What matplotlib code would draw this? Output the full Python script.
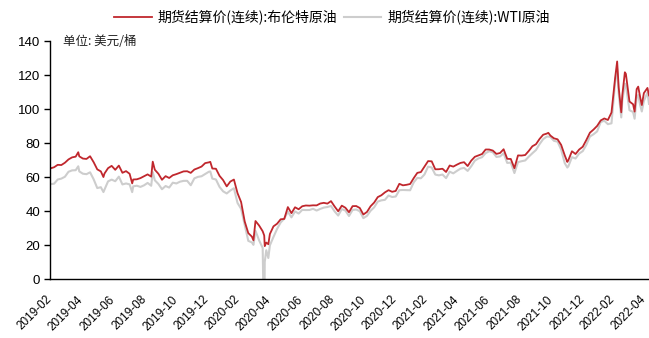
import matplotlib
matplotlib.use('Agg')
import matplotlib.pyplot as plt
import pandas as pd

plt.rcParams['font.family'] = ['Liberation Sans', 'Noto Sans CJK SC', 'DejaVu Sans']

# Friday settlements, 2019-03-01 .. 2022-05-06 (USD/bbl)
brent_2019 = [65.07, 65.74, 67.16, 67.03, 68.39,
              70.34, 71.55, 71.97, 72.15,
              70.85, 70.62, 72.21, 68.69, 64.49,
              63.29, 62.01, 65.20, 66.55,
              64.23, 66.72, 62.47, 63.46,
              61.89, 58.53, 58.64, 59.34, 60.43,
              61.54, 60.22, 64.28, 61.91,
              58.37, 60.51, 59.42, 61.02,
              61.69, 62.51, 63.30, 63.39, 62.43,
              64.39, 65.22, 66.14, 68.16]
brent_2020 = [68.60, 64.98, 64.85, 60.69, 58.16,
              54.47, 57.32, 58.50, 50.52,
              45.27, 33.85, 26.98, 24.93,
              34.11, 31.48, 28.08, 21.44,
              26.44, 30.97, 32.50, 35.13, 35.33,
              42.30, 38.73, 42.19, 41.02,
              42.80, 43.24, 43.14, 43.34, 43.30,
              44.40, 44.80, 44.35, 45.81,
              42.66, 39.83, 43.15, 41.92,
              39.27, 42.85, 42.93, 41.77, 37.94,
              39.45, 42.78, 44.96, 48.18,
              49.25, 50.97, 52.26, 51.29]
brent_2021 = [51.80, 55.99, 55.10, 55.41, 55.88,
              59.34, 62.43, 62.91, 66.13,
              69.36, 69.22, 64.53, 64.57,
              64.86, 62.95, 66.77, 66.11, 67.25,
              68.28, 68.71, 66.44, 69.63,
              71.89, 72.69, 73.51, 76.18,
              76.17, 75.55, 73.59, 74.10, 76.33,
              70.70, 70.59, 65.18, 72.70,
              72.61, 72.92, 75.34, 78.09,
              79.28, 82.39, 84.86, 85.53, 84.38,
              82.74, 82.17, 78.89, 72.72,
              69.88, 75.15, 73.52, 76.14, 77.78]
brent_2022 = [81.75, 86.06, 87.89, 90.03,
              93.27, 94.44, 93.54, 97.93,
              118.11, 112.67, 107.93, 120.65,
              104.39, 102.78, 111.70, 106.65, 109.34,
              112.39]

wti_2019 = [55.80, 56.07, 58.52, 59.04, 60.14,
            63.08, 63.89, 64.00, 63.30,
            61.94, 61.66, 62.76, 58.63, 53.50,
            53.99, 52.51, 57.43, 58.47,
            57.51, 60.21, 55.63, 56.20,
            55.66, 54.50, 54.87, 54.17, 55.10,
            56.52, 54.85, 58.09, 55.91,
            52.81, 54.70, 53.78, 56.66,
            56.20, 57.24, 57.72, 57.77, 55.17,
            59.20, 60.07, 60.44, 61.72]
wti_2020 = [63.05, 59.04, 58.54, 54.19, 51.56,
            50.32, 52.05, 53.38, 44.76,
            41.28, 31.73, 22.43, 21.51,
            28.34, 22.76, 18.27, 16.94,
            19.78, 24.74, 29.43, 33.25, 35.49,
            39.55, 36.26, 39.75, 38.49,
            40.65, 40.55, 40.59, 41.29, 40.27,
            41.22, 42.01, 42.34, 42.97,
            39.77, 37.33, 41.11, 40.25,
            37.05, 40.60, 40.88, 39.85, 35.79,
            37.14, 40.13, 42.15, 45.53,
            46.26, 46.57, 49.10, 48.23]
wti_2021 = [48.52, 52.24, 52.36, 52.27, 52.20,
            56.85, 59.47, 59.24, 61.50,
            66.09, 65.61, 61.42, 60.97,
            61.45, 59.32, 63.13, 62.14, 63.58,
            64.90, 65.37, 63.58, 66.32,
            69.62, 70.91, 71.64, 74.05,
            75.16, 74.56, 71.81, 72.07, 73.95,
            68.28, 68.44, 62.32, 68.74,
            69.29, 69.72, 71.97, 73.98,
            75.88, 79.35, 82.28, 83.76, 83.57,
            81.27, 80.79, 76.10, 68.15,
            66.26, 71.67, 70.86, 73.79, 75.21]
wti_2022 = [78.90, 83.82, 85.14, 86.82,
            92.31, 93.10, 91.07, 91.59,
            115.68, 109.33, 104.70, 113.90,
            99.27, 98.26, 106.95, 102.07, 104.69,
            109.77]

# single days worth keeping between the weekly points
extra_dates = ['2019-02-28', '2019-04-24', '2019-06-12', '2019-08-07',
               '2019-09-16', '2020-01-06', '2020-03-30', '2020-04-20',
               '2020-04-21', '2020-04-28', '2021-10-25', '2021-12-01',
               '2022-03-08', '2022-03-16', '2022-03-23', '2022-04-11',
               '2022-04-18', '2022-04-25', '2022-05-09']
extra_brent = [65.6, 74.57, 59.97, 56.23,
               69.02, 68.91, 22.76, 25.57,
               19.33, 20.46, 85.99, 68.87,
               127.98, 98.02, 121.60, 98.48,
               113.16, 102.32, 108.0]
extra_wti = [56.6, 66.30, 51.14, 51.09,
             62.90, 63.27, 20.09, -37.63,
             10.01, 12.34, 83.76, 65.57,
             123.70, 95.04, 114.93, 94.29,
             108.21, 98.54, 103.0]

tick_labels = ['2019-02', '2019-04', '2019-06', '2019-08', '2019-10', '2019-12',
               '2020-02', '2020-04', '2020-06', '2020-08', '2020-10', '2020-12',
               '2021-02', '2021-04', '2021-06', '2021-08', '2021-10', '2021-12',
               '2022-02', '2022-04']

brent_name = '期货结算价(连续):布伦特原油'
wti_name = '期货结算价(连续):WTI原油'

weeks = pd.date_range('2019-03-01', '2022-05-06', freq='W-FRI')
weekly = pd.DataFrame({'brent': brent_2019 + brent_2020 + brent_2021 + brent_2022,
                       'wti': wti_2019 + wti_2020 + wti_2021 + wti_2022},
                      index=weeks)
extra = pd.DataFrame({'brent': extra_brent, 'wti': extra_wti},
                     index=pd.to_datetime(extra_dates))
df = pd.concat([weekly, extra]).sort_index()

fig = plt.figure(figsize=(6.49, 3.38), dpi=100)
ax = fig.add_axes([50 / 649, 59 / 338, 599 / 649, 238 / 338])

l_wti, = ax.plot(df.index, df['wti'], color='#CDCDCD', lw=1.5)
l_brent, = ax.plot(df.index, df['brent'], color='#C0272D', lw=1.3)

ax.set_ylim(0, 140)
ax.set_yticks(range(0, 141, 20))
ax.set_xlim(df.index[0], df.index[-1])

# labels sit at the last day of each second month
tick_pos = [pd.Period(s, 'M').end_time.normalize() for s in tick_labels]
ax.set_xticks(tick_pos)
ax.set_xticklabels(tick_labels, rotation=45, ha='right', va='center',
                   rotation_mode='anchor')

for side in ['top', 'right']:
    ax.spines[side].set_visible(False)
for side in ['left', 'bottom']:
    ax.spines[side].set_color('black')
    ax.spines[side].set_linewidth(1.0)

ax.tick_params(axis='y', direction='out', length=4, width=1, pad=3,
               labelsize=9.5, colors='black')
ax.tick_params(axis='x', length=0, pad=13.5, labelsize=8.5, colors='black')

ax.text(0.022, 0.996, '单位: 美元/桶', transform=ax.transAxes, va='center',
        ha='left', fontsize=9, family=['Noto Sans CJK SC', 'DejaVu Sans'],
        color='#222222')

fig.legend([l_brent, l_wti], [brent_name, wti_name], loc='center',
           bbox_to_anchor=(332 / 649, 1 - 17 / 338), ncol=2, frameon=False,
           handlelength=2.7, handletextpad=0.45, columnspacing=0.45,
           prop={'family': ['Noto Sans CJK SC', 'DejaVu Sans'], 'size': 10})

fig.savefig('out.png', dpi=100)
